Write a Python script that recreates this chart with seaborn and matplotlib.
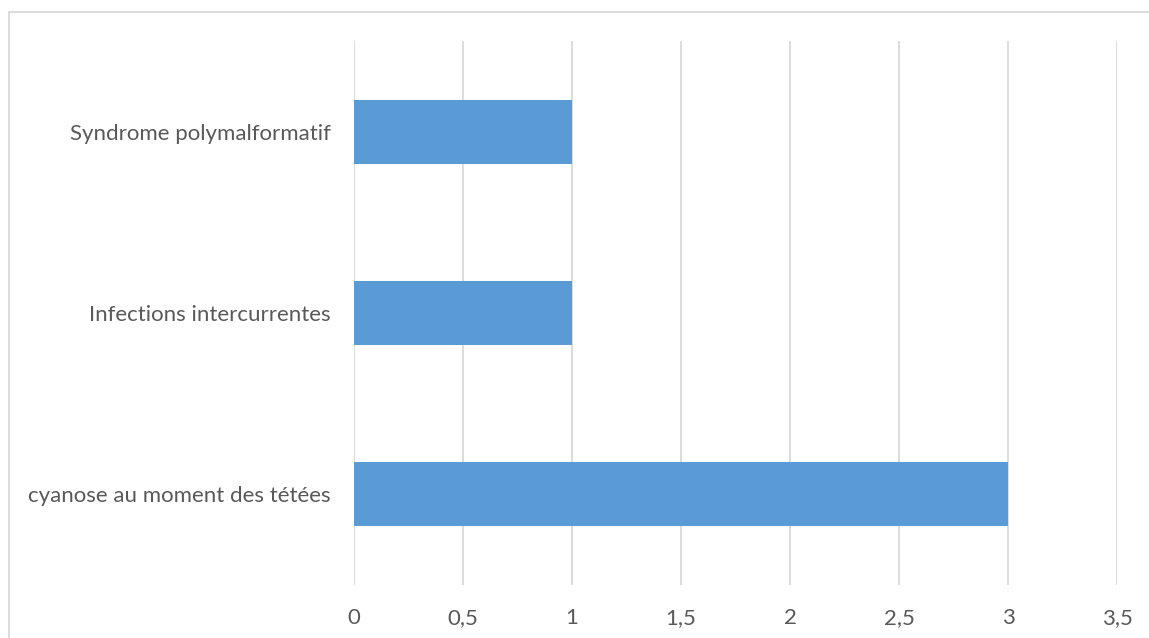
import matplotlib
matplotlib.use("Agg")
import matplotlib.pyplot as plt
import seaborn as sns
import pandas as pd
from matplotlib.patches import Rectangle

categories = ["Syndrome polymalformatif", "Infections intercurrentes", "cyanose au moment des tétées"]
values = [1, 1, 3]
tick_values = [0, 0.5, 1, 1.5, 2, 2.5, 3, 3.5]
tick_labels = ["0", "0,5", "1", "1,5", "2", "2,5", "3", "3,5"]

sns.set_style("white")
plt.rcParams["font.family"] = ["Lato", "DejaVu Sans"]

W, H = 1149, 638
fig = plt.figure(figsize=(W / 100, H / 100), dpi=100)
ax = fig.add_axes([354 / W, (H - 585) / H, (1117 - 354) / W, (585 - 41) / H])

df = pd.DataFrame({"cat": categories, "val": values})
sns.barplot(data=df, y="cat", x="val", orient="h", color="#5B9BD5",
            saturation=1, width=0.353, linewidth=0, ax=ax, zorder=3)

ax.set_xlim(0, 3.5)
ax.set_ylim(len(categories) - 0.5, -0.5)
ax.set_xticks(tick_values)
ax.set_xticklabels(tick_labels)
ax.set_xlabel("")
ax.set_ylabel("")
ax.xaxis.grid(True, color="#d9d9d9", linewidth=1.3, zorder=0)
ax.yaxis.grid(False)
for s in ax.spines.values():
    s.set_visible(False)
ax.tick_params(axis="x", length=0, pad=16.5, labelsize=16, labelcolor="#595959")
ax.tick_params(axis="y", length=0, pad=17, labelsize=16, labelcolor="#595959")

# chart frame
fig.patches.append(Rectangle((9 / W, -0.1), 1.2, (H - 12) / H + 0.1,
                             transform=fig.transFigure, fill=False,
                             edgecolor="#d9d9d9", linewidth=1.3, zorder=0))

fig.savefig("out.png", dpi=100, facecolor="white")
